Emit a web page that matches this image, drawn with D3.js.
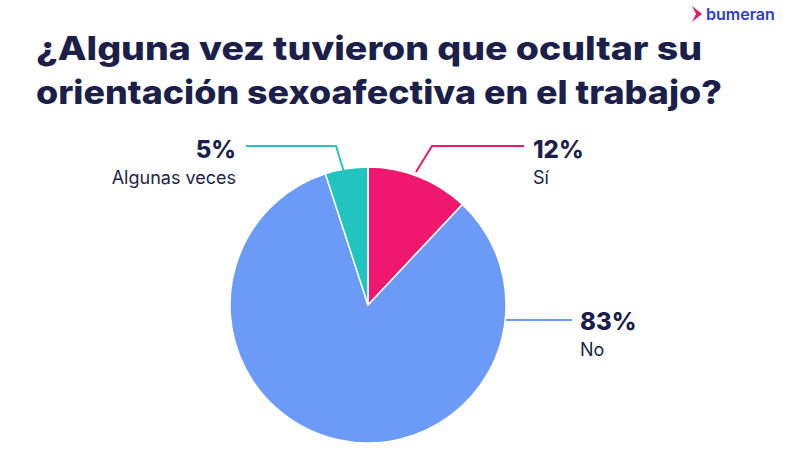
<!DOCTYPE html>
<html><head><meta charset="utf-8">
<script src="https://cdn.jsdelivr.net/npm/d3@7"></script>
<style>body{margin:0;background:#fff}svg{display:block}</style>
</head><body>
<script>
// data
const categories = ["Sí", "No", "Algunas veces"];
const values = [12, 83, 5];
const colors = ["#f0186e", "#6b9bf7", "#22c4c0"];
const titleLines = ["¿Alguna vez tuvieron que ocultar su", "orientación sexoafectiva en el trabajo?"];
// label anchor: text x, text y, anchor, leader polyline from slice edge
const labelPos = [
  {x: 533, y: 158, anchor: "start", line: [[416, 172], [432, 146], [524, 146]]},
  {x: 580, y: 330, anchor: "start", line: [[506, 320], [572, 320]]},
  {x: 236, y: 158, anchor: "end", line: [[344, 172], [336, 146], [246, 146]]}
];

const svg = d3.select("body").append("svg").attr("width", 790).attr("height", 450);

svg.selectAll("text.title").data(titleLines).join("text").attr("class", "title")
  .attr("x", 36).attr("y", (d, i) => 60 + i * 44)
  .attr("textLength", (d, i) => [666, 686][i]).attr("lengthAdjust", "spacingAndGlyphs")
  .attr("font-family", "Inter, 'Open Sans', sans-serif").attr("font-weight", 800)
  .attr("font-size", 33).attr("fill", "#1b1f4a")
  .text(d => d);

// logo
svg.append("path").attr("d", "M692,6 L702,14 L692,22 L696,14 Z").attr("fill", "#e8186e");
svg.append("text").attr("x", 706).attr("y", 20)
  .attr("font-family", "Inter, sans-serif").attr("font-weight", 600)
  .attr("font-size", 16).attr("fill", "#2a3be0").text("bumeran");

const cx = 368, cy = 305, r = 138;
const pie = d3.pie().sort(null).value(d => d)(values);
const arc = d3.arc().innerRadius(0).outerRadius(r);
const g = svg.append("g").attr("transform", `translate(${cx},${cy})`);
g.selectAll("path").data(pie).join("path")
  .attr("d", arc).attr("fill", (d, i) => colors[i])
  .attr("stroke", "#fff").attr("stroke-width", 1.5);

labelPos.forEach((p, i) => {
  svg.append("polyline").attr("points", p.line.map(q => q.join(",")).join(" "))
    .attr("fill", "none").attr("stroke", colors[i]).attr("stroke-width", 2);
  svg.append("text").attr("x", p.x).attr("y", p.y).attr("text-anchor", p.anchor)
    .attr("font-family", "Inter, sans-serif").attr("font-weight", 800)
    .attr("font-size", 24).attr("fill", "#1b1f4a").text(values[i] + "%");
  svg.append("text").attr("x", p.x).attr("y", p.y + 26).attr("text-anchor", p.anchor)
    .attr("font-family", "Inter, sans-serif").attr("font-size", 18)
    .attr("fill", "#1b1f4a").text(categories[i]);
});
</script>
</body></html>
